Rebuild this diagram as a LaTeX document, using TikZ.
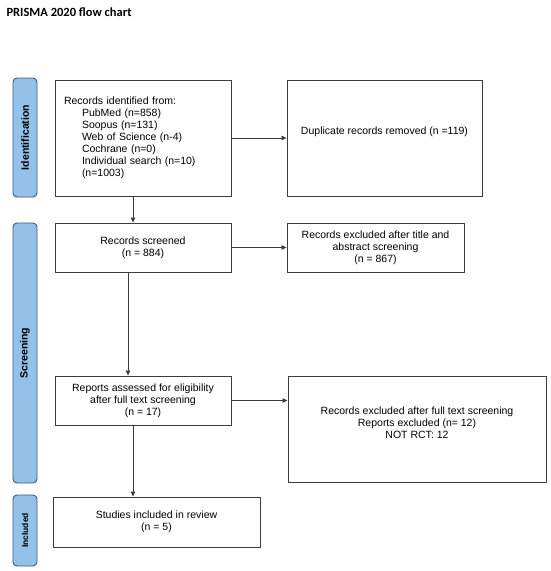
\documentclass[tikz,border=0pt]{standalone}
\usepackage{fontspec}
\setmainfont{Liberation Sans}
\newfontfamily\titlefont{Carlito}
\usepackage{tikz}
\usetikzlibrary{calc,positioning,arrows.meta,shapes}
\definecolor{barblue}{HTML}{93C1E8}
\definecolor{barline}{HTML}{3F5870}
\definecolor{boxline}{HTML}{3C3C3C}

\begin{document}
\begin{tikzpicture}[x=1pt,y=-1pt,
    box/.style={draw=boxline,line width=0.9pt,rectangle,inner sep=0pt,align=center,
      font=\fontsize{10.5}{12}\selectfont},
    bar/.style={draw=barline,fill=barblue,line width=0.9pt,rounded corners=4pt,
      rotate=90,minimum height=24pt,inner sep=0pt,
      font=\bfseries\fontsize{10.5}{12}\selectfont},
    arr/.style={draw=boxline,line width=0.8pt,-{Triangle[length=5pt,width=4.5pt]}}]
  \useasboundingbox (0,0) rectangle (550,571);
  \node at (3,12) (T) [anchor=west]{\titlefont\bfseries\fontsize{12.5}{14}\selectfont PRISMA 2020 flow chart};
  % side bars
  \node at (25,137.5) (P) [bar,minimum width=119pt]{Identification};
  \node at (25,353) (Q) [bar,minimum width=260pt]{Screening};
  \node at (25,530.5) (R) [bar,minimum width=71pt,font=\bfseries\fontsize{8.5}{10}\selectfont]{Included};
  % boxes
  \node at (143,138) (A) [box,minimum height=116pt,text width=158pt,inner xsep=9pt,align=left]{%
    Records identified from:\\
    \hspace*{18pt}PubMed (n=858)\\
    \hspace*{18pt}Soopus (n=131)\\
    \hspace*{18pt}Web of Science (n-4)\\
    \hspace*{18pt}Cochrane (n=0)\\
    \hspace*{18pt}Individual search (n=10)\\
    \hspace*{18pt}(n=1003)};
  \node at (384.5,138) (B) [box,minimum width=195pt,minimum height=116pt,
    label={[yshift=6pt,font=\fontsize{10.5}{12}\selectfont]center:Duplicate records removed (n =119)}]{};
  \node at (143,247.5) (C) [box,minimum width=176pt,minimum height=49pt]{%
    Records screened\\(n = 884)};
  \node at (375.5,247.5) (D) [box,minimum width=177pt,minimum height=49pt]{%
    Records excluded after title and\\abstract screening\\(n = 867)};
  \node at (143,400.5) (E) [box,minimum width=176pt,minimum height=49pt]{%
    Reports assessed for eligibility\\after full text screening\\(n = 17)};
  \node at (417,429) (F) [box,minimum width=258pt,minimum height=106pt,
    label={[yshift=6pt,align=center,font=\fontsize{10.5}{12}\selectfont]center:%
      Records excluded after full text screening\\Reports excluded (n= 12)\\NOT RCT: 12}]{};
  \node at (156.5,522) (G) [box,minimum width=207pt,minimum height=50pt]{%
    Studies included in review\\(n = 5)};
  % connectors
  \draw[arr] (A.east) -- (B.west);
  \draw[arr] ([xshift=-10pt]A.south) -- ([xshift=-10pt]C.north);
  \draw[arr] (C.east) -- (D.west);
  \draw[arr] ([xshift=-15pt]C.south) -- ([xshift=-15pt]E.north);
  \draw[arr] (E.east) -- (E.east -| F.west);
  \draw[arr] ([xshift=-10pt]E.south) -- ([xshift=-10pt]E.south |- G.north);
\end{tikzpicture}
\end{document}
